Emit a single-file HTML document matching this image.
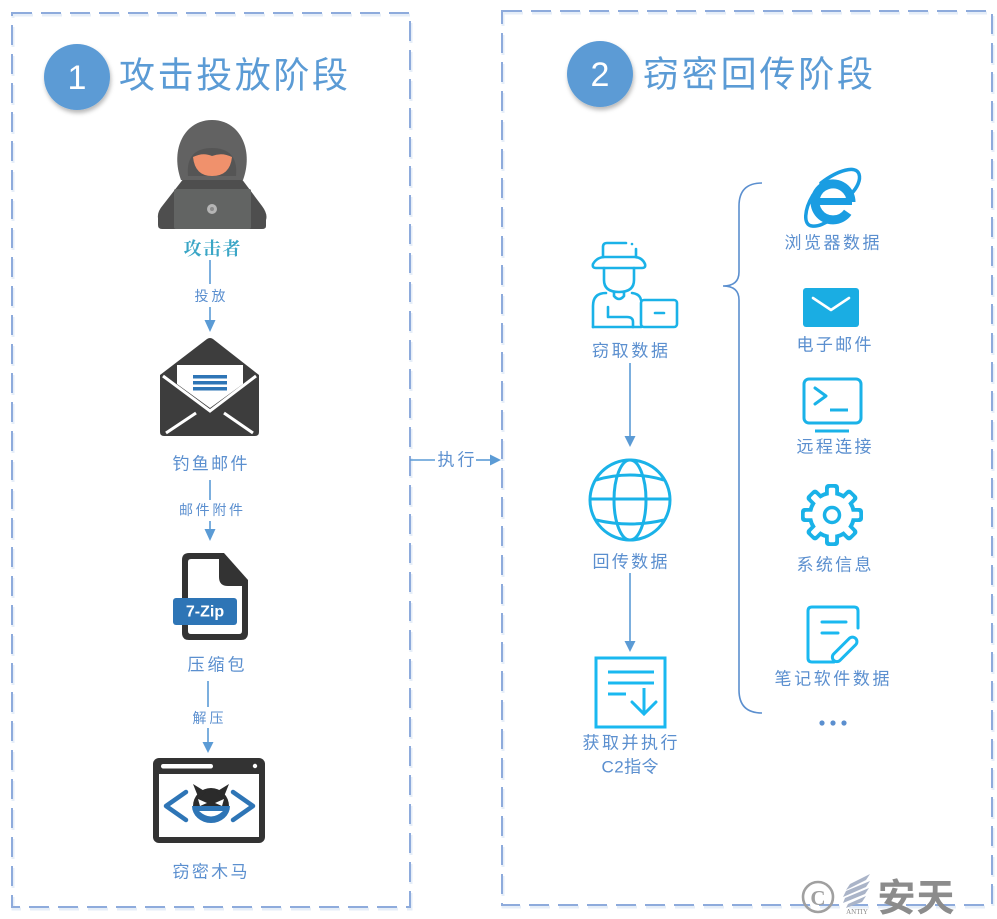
<!DOCTYPE html>
<html><head><meta charset="utf-8">
<style>
html,body{margin:0;padding:0;background:#fff;}
svg{display:block;}
text{font-family:"Liberation Sans","Noto Sans CJK SC",sans-serif;}
.lb{fill:#5b8fcf;font-size:17px;}
.sm{fill:#5b8fcf;font-size:14px;}
.ic{fill:none;stroke:#1ab2e8;stroke-width:2.6;stroke-linecap:round;stroke-linejoin:round;}
</style></head>
<body>
<svg width="997" height="919" viewBox="0 0 997 919" xmlns="http://www.w3.org/2000/svg">
<defs>
<filter id="sh" x="-30%" y="-30%" width="160%" height="170%">
<feDropShadow dx="1" dy="3" stdDeviation="2" flood-color="#000" flood-opacity="0.28"/>
</filter>
</defs>

<!-- dashed boxes -->
<rect x="13" y="15" width="398" height="894" fill="none" stroke="#e6eef8" stroke-width="3" stroke-dasharray="20 9"/>
<rect x="12" y="13" width="398" height="894" fill="none" stroke="#8eabdc" stroke-width="2" stroke-dasharray="20 9"/>
<rect x="503" y="13" width="490" height="894" fill="none" stroke="#e6eef8" stroke-width="3" stroke-dasharray="20 9"/>
<rect x="502" y="11" width="490" height="894" fill="none" stroke="#8eabdc" stroke-width="2" stroke-dasharray="20 9"/>

<!-- titles -->
<circle cx="77" cy="77" r="33" fill="#5b9bd5" filter="url(#sh)"/>
<text x="77" y="78" fill="#fff" font-size="34" text-anchor="middle" dominant-baseline="central">1</text>
<text x="119" y="75" fill="#5b9bd5" font-size="36" textLength="229" lengthAdjust="spacing" dominant-baseline="central">攻击投放阶段</text>

<circle cx="600" cy="74" r="33" fill="#5b9bd5" filter="url(#sh)"/>
<text x="600" y="75" fill="#fff" font-size="34" text-anchor="middle" dominant-baseline="central">2</text>
<text x="643" y="74" fill="#5b9bd5" font-size="36" textLength="230" lengthAdjust="spacing" dominant-baseline="central">窃密回传阶段</text>

<!-- hacker -->
<path d="M184,178 L241,178 L262,206 Q268,214 266,220 L266,226 Q266,229 262,229 L162,229 Q158,229 158,225 L158,218 Q157,212 163,205 Z" fill="#4e4e4e"/>
<path d="M181,180 C170,150 184,120 212,120 C240,120 254,150 243,180 Z" fill="#626262"/>
<path d="M188,176 C186,156 196,148 212,148 C228,148 238,156 236,176 Z" fill="#555"/>
<path d="M193,157 Q203,152 212,156 Q222,152 232,157 Q230,176 212,176 Q195,176 193,157 Z" fill="#f0916c"/>
<rect x="174" y="189" width="77" height="40" rx="2" fill="#626463"/>
<circle cx="212" cy="209" r="5" fill="#b5b5b5"/>
<circle cx="212" cy="209" r="2" fill="#8a8a8a"/>
<text x="212" y="249" fill="#3ba6c6" font-size="18" font-weight="bold" text-anchor="middle" textLength="57" lengthAdjust="spacing" dominant-baseline="central" style="font-family:'Liberation Serif','Noto Serif CJK SC',serif">攻击者</text>

<!-- arrow 1 -->
<line x1="210" y1="260" x2="210" y2="284" stroke="#5b9bd5" stroke-width="1.6"/>
<text x="210" y="296" class="sm" text-anchor="middle" textLength="31" lengthAdjust="spacing" dominant-baseline="central">投放</text>
<line x1="210" y1="307" x2="210" y2="322" stroke="#5b9bd5" stroke-width="1.6"/>
<polygon points="204.5,320 215.5,320 210,332" fill="#5b9bd5"/>

<!-- envelope -->
<path d="M160,375 L207,339 Q210,337 213,339 L259,375 L259,432 Q259,436 255,436 L164,436 Q160,436 160,432 Z" fill="#3d3d3d"/>
<polygon points="177,365 243,365 243,384 210,408 177,384" fill="#fff"/>
<path d="M163,376 L210,411 L256,376" fill="none" stroke="#fff" stroke-width="3"/>
<path d="M166,433 L196,413 M253,433 L224,413" fill="none" stroke="#fff" stroke-width="3"/>
<rect x="193" y="375" width="34" height="3.5" fill="#2e75b6"/>
<rect x="193" y="381" width="34" height="3.5" fill="#2e75b6"/>
<rect x="193" y="387" width="34" height="3.5" fill="#2e75b6"/>
<text x="210" y="464" class="lb" text-anchor="middle" textLength="75" lengthAdjust="spacing" dominant-baseline="central">钓鱼邮件</text>

<!-- arrow 2 -->
<line x1="210" y1="480" x2="210" y2="500" stroke="#5b9bd5" stroke-width="1.6"/>
<text x="211" y="510" class="sm" text-anchor="middle" textLength="64" lengthAdjust="spacing" dominant-baseline="central">邮件附件</text>
<line x1="210" y1="521" x2="210" y2="531" stroke="#5b9bd5" stroke-width="1.6"/>
<polygon points="204.5,529 215.5,529 210,541" fill="#5b9bd5"/>

<!-- 7-zip file -->
<path d="M189,553 L224,553 L248,580 L248,633 Q248,640 241,640 L189,640 Q182,640 182,633 L182,560 Q182,553 189,553 Z" fill="#333"/>
<path d="M191,559 L219,559 L219,577 Q219,586 228,586 L242,586 L242,631 Q242,634 239,634 L191,634 Q188,634 188,631 L188,562 Q188,559 191,559 Z" fill="#fff"/>
<rect x="173" y="598" width="64" height="27" rx="3" fill="#2e75b6"/>
<text x="205" y="612" fill="#fff" font-size="16" font-weight="bold" text-anchor="middle" dominant-baseline="central">7-Zip</text>
<text x="216" y="665" class="lb" text-anchor="middle" textLength="57" lengthAdjust="spacing" dominant-baseline="central">压缩包</text>

<!-- arrow 3 -->
<line x1="208" y1="681" x2="208" y2="707" stroke="#5b9bd5" stroke-width="1.6"/>
<text x="208" y="718" class="sm" text-anchor="middle" textLength="31" lengthAdjust="spacing" dominant-baseline="central">解压</text>
<line x1="208" y1="728" x2="208" y2="744" stroke="#5b9bd5" stroke-width="1.6"/>
<polygon points="202.5,742 213.5,742 208,753" fill="#5b9bd5"/>

<!-- trojan window -->
<rect x="153" y="758" width="112" height="85" rx="6" fill="#333"/>
<rect x="159" y="774" width="100" height="63" fill="#fff"/>
<rect x="161" y="764" width="52" height="4.5" rx="2.2" fill="#fff"/>
<circle cx="255" cy="766" r="2.2" fill="#fff"/>
<path d="M186,792 L166,806 L186,820" fill="none" stroke="#2e75b6" stroke-width="4.5" stroke-linecap="round" stroke-linejoin="round"/>
<path d="M233,792 L253,806 L233,820" fill="none" stroke="#2e75b6" stroke-width="4.5" stroke-linecap="round" stroke-linejoin="round"/>
<path d="M193,806 A18,18 0 0,1 229,806 Z" fill="#2b2b2b"/>
<path d="M192,806 L230,806 A19,17 0 0,1 192,806 Z" fill="#2e75b6"/>
<polygon points="193,784 199,799 206,792" fill="#2b2b2b"/>
<polygon points="229,784 223,799 216,792" fill="#2b2b2b"/>
<polygon points="198,799 207,803 200,806" fill="#fff"/>
<polygon points="224,799 215,803 222,806" fill="#fff"/>
<path d="M199,811 Q211,822 223,811 Z" fill="#fff"/>
<text x="210" y="872" class="lb" text-anchor="middle" textLength="75" lengthAdjust="spacing" dominant-baseline="central">窃密木马</text>

<!-- execute arrow -->
<line x1="410" y1="460" x2="435" y2="460" stroke="#5b9bd5" stroke-width="1.6"/>
<text x="456" y="460" class="lb" text-anchor="middle" textLength="37" lengthAdjust="spacing" dominant-baseline="central">执行</text>
<line x1="476" y1="460" x2="492" y2="460" stroke="#5b9bd5" stroke-width="1.6"/>
<polygon points="490,454.5 490,465.5 501,460" fill="#5b9bd5"/>

<!-- hat person -->
<g class="ic">
<path d="M603,257 V247 Q603,243 607,243 H626"/>
<path d="M636,249 V257"/>
<path d="M596,268 Q592,268 593,264 Q597,257 605,257 H634 Q642,257 645,264 Q646,268 642,268 Z"/>
<path d="M604,268 V280 Q604,292 619,292 Q634,292 634,280 V268"/>
<path d="M614,292 V296 Q619,302 624,296 V292"/>
<path d="M593,327 V306 Q593,293 606,293"/>
<path d="M632,293 Q640,294 641,300"/>
<path d="M608,307 V317 H627 Q633,317 633,322 V327"/>
<path d="M593,327 H641"/>
<rect x="641" y="300" width="36" height="27" rx="3"/>
<path d="M655,313 H664"/>
</g>
<circle cx="632" cy="244" r="1.3" fill="#1ab2e8"/>
<text x="630" y="351" class="lb" text-anchor="middle" textLength="76" lengthAdjust="spacing" dominant-baseline="central">窃取数据</text>

<line x1="630" y1="363" x2="630" y2="438" stroke="#5b9bd5" stroke-width="1.6"/>
<polygon points="624.5,436 635.5,436 630,447" fill="#5b9bd5"/>

<!-- globe -->
<g fill="none" stroke="#1ab2e8" stroke-width="3">
<circle cx="630" cy="500" r="40"/>
<ellipse cx="630" cy="500" rx="16" ry="40"/>
<line x1="590" y1="499" x2="670" y2="499"/>
<path d="M596,480 Q630,470 664,480"/>
<path d="M596,520 Q630,528 664,520"/>
</g>
<text x="630" y="562" class="lb" text-anchor="middle" textLength="75" lengthAdjust="spacing" dominant-baseline="central">回传数据</text>

<line x1="630" y1="573" x2="630" y2="643" stroke="#5b9bd5" stroke-width="1.6"/>
<polygon points="624.5,641 635.5,641 630,652" fill="#5b9bd5"/>

<!-- doc download -->
<g fill="none" stroke="#1ab8f0" stroke-width="3" stroke-linecap="butt">
<rect x="596" y="658" width="69" height="69"/>
<line x1="608" y1="672" x2="654" y2="672"/>
<line x1="608" y1="683" x2="654" y2="683"/>
<line x1="608" y1="694" x2="626" y2="694"/>
<line x1="644" y1="688" x2="644" y2="713"/>
<path d="M632,702 L644,714 L656,702" stroke-linecap="round"/>
</g>
<text x="630" y="743" class="lb" text-anchor="middle" textLength="95" lengthAdjust="spacing" dominant-baseline="central">获取并执行</text>
<text x="630" y="767" class="lb" text-anchor="middle" textLength="57" lengthAdjust="spacing" dominant-baseline="central">C2指令</text>

<!-- brace -->
<path d="M762,183 Q739,183 739,206 L739,272 Q739,286 723,286 Q739,286 739,300 L739,690 Q739,713 762,713" fill="none" stroke="#5b8fcf" stroke-width="1.6"/>

<!-- IE icon -->
<g>
<path d="M851,202 A18,18 0 1,0 847.7,212.3" fill="none" stroke="#1a9de2" stroke-width="9"/>
<rect x="819" y="198" width="33" height="7" fill="#1a9de2"/>
<path d="M821,183 C838,170 856,165 859,174 C861,180 857,188 851,194" fill="none" stroke="#1a9de2" stroke-width="3.5" stroke-linecap="round"/>
<path d="M813,195 C804,210 803,225 812,226 C818,227 826,223 831,219" fill="none" stroke="#1a9de2" stroke-width="3.5" stroke-linecap="round"/>
</g>
<text x="832" y="243" class="lb" text-anchor="middle" textLength="95" lengthAdjust="spacing" dominant-baseline="central">浏览器数据</text>

<!-- mail -->
<rect x="803" y="288" width="56" height="39" rx="3" fill="#1aade3"/>
<path d="M813,298 L831,310 L849,298" fill="none" stroke="#fff" stroke-width="2.6" stroke-linecap="round" stroke-linejoin="round"/>
<text x="834" y="345" class="lb" text-anchor="middle" textLength="75" lengthAdjust="spacing" dominant-baseline="central">电子邮件</text>

<!-- terminal -->
<g fill="none" stroke="#1ab2e8" stroke-width="3" stroke-linecap="round" stroke-linejoin="round">
<rect x="804" y="379" width="57" height="44" rx="5"/>
<path d="M815,388 L826,396 L815,404"/>
<line x1="830" y1="410" x2="848" y2="410" stroke-linecap="butt"/>
<line x1="815" y1="431" x2="849" y2="431" stroke-linecap="butt"/>
</g>
<text x="834" y="447" class="lb" text-anchor="middle" textLength="75" lengthAdjust="spacing" dominant-baseline="central">远程连接</text>

<!-- gear -->
<g transform="translate(832,515)">
<g fill="#1ab2e8">
<circle r="24"/>
<rect x="-7" y="-31" width="14" height="14" rx="3.5"/>
<rect x="-7" y="-31" width="14" height="14" rx="3.5" transform="rotate(45)"/>
<rect x="-7" y="-31" width="14" height="14" rx="3.5" transform="rotate(90)"/>
<rect x="-7" y="-31" width="14" height="14" rx="3.5" transform="rotate(135)"/>
<rect x="-7" y="-31" width="14" height="14" rx="3.5" transform="rotate(180)"/>
<rect x="-7" y="-31" width="14" height="14" rx="3.5" transform="rotate(225)"/>
<rect x="-7" y="-31" width="14" height="14" rx="3.5" transform="rotate(270)"/>
<rect x="-7" y="-31" width="14" height="14" rx="3.5" transform="rotate(315)"/>
</g>
<g fill="#fff">
<circle r="20"/>
<rect x="-3.2" y="-27.3" width="6.4" height="10" rx="1.5"/>
<rect x="-3.2" y="-27.3" width="6.4" height="10" rx="1.5" transform="rotate(45)"/>
<rect x="-3.2" y="-27.3" width="6.4" height="10" rx="1.5" transform="rotate(90)"/>
<rect x="-3.2" y="-27.3" width="6.4" height="10" rx="1.5" transform="rotate(135)"/>
<rect x="-3.2" y="-27.3" width="6.4" height="10" rx="1.5" transform="rotate(180)"/>
<rect x="-3.2" y="-27.3" width="6.4" height="10" rx="1.5" transform="rotate(225)"/>
<rect x="-3.2" y="-27.3" width="6.4" height="10" rx="1.5" transform="rotate(270)"/>
<rect x="-3.2" y="-27.3" width="6.4" height="10" rx="1.5" transform="rotate(315)"/>
</g>
<circle r="7.5" fill="none" stroke="#1ab2e8" stroke-width="3.5"/>
</g>
<text x="834" y="565" class="lb" text-anchor="middle" textLength="75" lengthAdjust="spacing" dominant-baseline="central">系统信息</text>

<!-- notes -->
<g fill="none" stroke="#1ab8f0" stroke-width="3" stroke-linecap="round" stroke-linejoin="round">
<path d="M834,662 H812 Q808,662 808,658 V611 Q808,607 812,607 H854 Q858,607 858,611 V628"/>
<line x1="822" y1="622" x2="846" y2="622"/>
<line x1="822" y1="633" x2="838" y2="633"/>
<rect x="-16" y="-4.5" width="31" height="9" rx="4.5" transform="translate(845,649) rotate(-45)"/>
</g>
<text x="832" y="679" class="lb" text-anchor="middle" textLength="115" lengthAdjust="spacing" dominant-baseline="central">笔记软件数据</text>

<!-- dots -->
<circle cx="822" cy="723" r="2.6" fill="#5b8fcf"/>
<circle cx="833" cy="723" r="2.6" fill="#5b8fcf"/>
<circle cx="844" cy="723" r="2.6" fill="#5b8fcf"/>

<!-- watermark -->
<circle cx="818" cy="897" r="15" fill="none" stroke="#a0a0a0" stroke-width="2.6"/>
<text x="818" y="898" fill="#a0a0a0" font-size="21" font-weight="bold" text-anchor="middle" dominant-baseline="central" style="font-family:'Liberation Serif',serif">C</text>
<g fill="#aab4c8">
<polygon points="850,884 870,874 866,880 846,890"/>
<polygon points="846,891 870,881 866,887 843,897"/>
<polygon points="845,898 869,888 865,894 843,903"/>
<polygon points="848,904 866,896 862,902 846,908"/>
</g>
<text x="857" y="912" fill="#8a8a8a" font-size="7" text-anchor="middle" dominant-baseline="central" style="font-family:'Liberation Serif',serif">ANTIY</text>
<text x="916" y="899" fill="#8c8c8c" font-size="38" font-weight="bold" text-anchor="middle" textLength="77" lengthAdjust="spacing" dominant-baseline="central">安天</text>
</svg>
</body></html>
